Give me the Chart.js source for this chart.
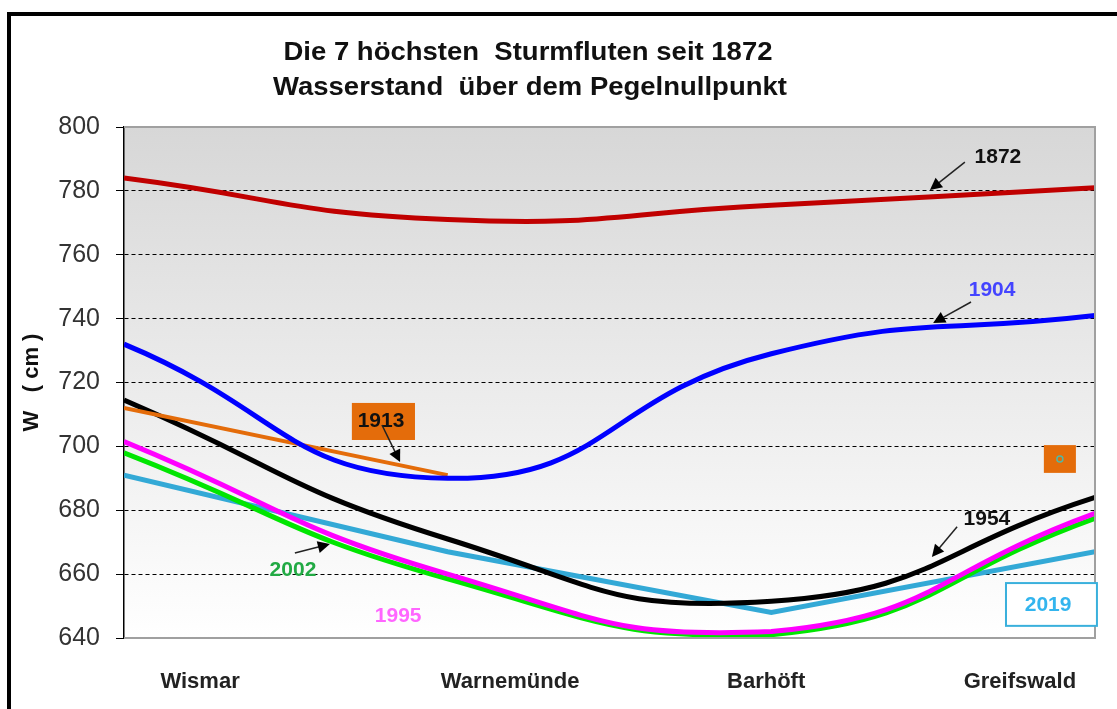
<!DOCTYPE html>
<html>
<head>
<meta charset="utf-8">
<script src="https://cdn.jsdelivr.net/npm/chart.js@4.4.0/dist/chart.umd.min.js"></script>
<style>
body { margin: 0; background: #fff; overflow: hidden; }
#wrap { position: relative; width: 1117px; height: 709px; }
#frame { position: absolute; left: 7px; top: 12px; width: 1200px; height: 800px; border-left: 4px solid #000; border-top: 4px solid #000; }
canvas { position: absolute; left: 0; top: 0; }
</style>
</head>
<body>
<div id="wrap">
  <div id="frame"></div>
  <canvas id="myChart" width="1117" height="709"></canvas>
</div>
<script>
// stations along the coast, x = 0..3
var stations = ["Wismar", "Warnemünde", "Barhöft", "Greifswald"];
var stationX = [0, 1, 2, 3];
var labelX = [0.235, 1.193, 1.984, 2.768];

// water level (cm) per storm flood
var w1872 = [784, 771, 775.5, 781];
var w1904 = [732, 690, 729, 741];
var w1913 = [712, 691];
var w1954 = [714.5, 671, 651.5, 684];
var w1995 = [701.5, 660, 642, 679];
var w2002 = [698, 658.5, 641, 677.5];
var w2019 = [691, 667, 648, 667];

var yMin = 640, yMax = 800, yStep = 20;

var titleLines = ["Die 7 höchsten  Sturmfluten seit 1872", "Wasserstand  über dem Pegelnullpunkt"];

const toPoints = (vals) => vals.map((v, i) => ({ x: stationX[i], y: v }));

const line = (label, vals, color, width, tension) => ({
    label: label,
    data: toPoints(vals),
    borderColor: color,
    borderWidth: width,
    pointRadius: 0,
    tension: tension,
    fill: false
});

// callouts, positions in data units
var notes = [
    { text: "1872", x: 2.70, y: 790.6, color: "#111", tail: [2.598, 789.0], head: [2.49, 780.3] },
    { text: "1904", x: 2.682, y: 749.0, color: "#4444ff", tail: [2.617, 745.2], head: [2.50, 738.6] },
    { text: "1913", x: 0.794, y: 707.9, color: "#111", box: [0.704, 713.6, 0.899, 702.0], boxFill: "#e46c0a", tail: [0.797, 706.7], head: [0.853, 695.1] },
    { text: "1954", x: 2.666, y: 677.3, color: "#111", tail: [2.574, 674.8], head: [2.496, 665.4] },
    { text: "2002", x: 0.522, y: 661.3, color: "#22aa44", tail: [0.528, 666.6], head: [0.636, 669.4] },
    { text: "1995", x: 0.847, y: 646.9, color: "#ff66ff" },
    { text: "2019", x: 2.855, y: 650.3, color: "#33b5ee", box: [2.725, 657.2, 3.006, 643.8], boxFill: "#fff", boxLine: "#3ab0dc" }
];

const drawArrow = (ctx, x1, y1, x2, y2) => {
    let a = Math.atan2(y2 - y1, x2 - x1)
    ctx.strokeStyle = "#222"
    ctx.fillStyle = "#000"
    ctx.lineWidth = 1.5
    ctx.beginPath()
    ctx.moveTo(x1, y1)
    ctx.lineTo(x2 - 8 * Math.cos(a), y2 - 8 * Math.sin(a))
    ctx.stroke()
    ctx.beginPath()
    ctx.moveTo(x2, y2)
    ctx.lineTo(x2 - 12 * Math.cos(a) + 6 * Math.sin(a), y2 - 12 * Math.sin(a) - 6 * Math.cos(a))
    ctx.lineTo(x2 - 12 * Math.cos(a) - 6 * Math.sin(a), y2 - 12 * Math.sin(a) + 6 * Math.cos(a))
    ctx.closePath()
    ctx.fill()
}

const backdrop = {
    id: "backdrop",
    beforeDraw(chart) {
        let ctx = chart.ctx, a = chart.chartArea
        let g = ctx.createLinearGradient(0, a.top, 0, a.bottom)
        g.addColorStop(0, "#d7d7d7")
        g.addColorStop(1, "#ffffff")
        ctx.save()
        ctx.fillStyle = g
        ctx.fillRect(a.left, a.top, a.right - a.left, a.bottom - a.top)
        ctx.restore()
    }
};

const extras = {
    id: "extras",
    afterDatasetsDraw(chart) {
        let ctx = chart.ctx, a = chart.chartArea
        let sx = chart.scales.x, sy = chart.scales.y
        ctx.save()
        // plot frame
        ctx.strokeStyle = "#a0a0a0"
        ctx.lineWidth = 2
        ctx.beginPath()
        ctx.moveTo(a.left, a.top)
        ctx.lineTo(a.right, a.top)
        ctx.lineTo(a.right, a.bottom)
        ctx.lineTo(a.left, a.bottom)
        ctx.stroke()

        // title
        ctx.fillStyle = "#111"
        ctx.font = "bold 26px 'Liberation Sans', Arial"
        ctx.textAlign = "center"
        ctx.textBaseline = "middle"
        let tw = ctx.measureText(titleLines[0]).width
        let k = Math.min(489 / tw, 1.08)
        ctx.save()
        ctx.translate(528, 0)
        ctx.scale(k, 1)
        ctx.fillText(titleLines[0], 0, 53)
        ctx.fillText(titleLines[1], 2 / k, 88)
        ctx.restore()

        // small orange marker box
        let bx1 = sx.getPixelForValue(2.842), by1 = sy.getPixelForValue(700.4)
        let bx2 = sx.getPixelForValue(2.941), by2 = sy.getPixelForValue(691.7)
        ctx.fillStyle = "#e46c0a"
        ctx.fillRect(bx1, by1, bx2 - bx1, by2 - by1)
        ctx.strokeStyle = "#4fb8a8"
        ctx.lineWidth = 1.5
        ctx.beginPath()
        ctx.arc((bx1 + bx2) / 2, (by1 + by2) / 2, 3, 0, Math.PI * 2)
        ctx.stroke()

        ctx.font = "bold 21px 'Liberation Sans', Arial"
        notes.forEach(n => {
            if (n.box) {
                let x1 = sx.getPixelForValue(n.box[0]), y1 = sy.getPixelForValue(n.box[1])
                let x2 = sx.getPixelForValue(n.box[2]), y2 = sy.getPixelForValue(n.box[3])
                ctx.fillStyle = n.boxFill
                ctx.fillRect(x1, y1, x2 - x1, y2 - y1)
                if (n.boxLine) {
                    ctx.strokeStyle = n.boxLine
                    ctx.lineWidth = 2
                    ctx.strokeRect(x1, y1, x2 - x1, y2 - y1)
                }
            }
            ctx.fillStyle = n.color
            ctx.fillText(n.text, sx.getPixelForValue(n.x), sy.getPixelForValue(n.y))
            if (n.tail) {
                drawArrow(ctx, sx.getPixelForValue(n.tail[0]), sy.getPixelForValue(n.tail[1]),
                    sx.getPixelForValue(n.head[0]), sy.getPixelForValue(n.head[1]))
            }
        })
        ctx.restore()
    }
};

new Chart("myChart", {
    type: "line",
    data: {
        datasets: [
            line("1872", w1872, "#c00000", 5, 0.5),
            line("1904", w1904, "#0000ff", 5, 0.5),
            line("1913", w1913, "#e46c0a", 4, 0),
            line("1954", w1954, "#000000", 5, 0.5),
            line("1995", w1995, "#ff00ff", 5, 0.5),
            line("2002", w2002, "#00e600", 5, 0.5),
            line("2019", w2019, "#33a9d6", 5, 0)
        ]
    },
    options: {
        responsive: false,
        animation: false,
        layout: { padding: { left: 0, top: 127, right: 22, bottom: 0 } },
        plugins: { legend: { display: false }, title: { display: false }, tooltip: { enabled: false } },
        scales: {
            x: {
                type: "linear",
                min: 0,
                max: 3,
                afterFit: (s) => { s.height = 71 },
                afterBuildTicks: (s) => { s.ticks = labelX.map(v => ({ value: v })) },
                grid: { display: false },
                border: { display: false },
                ticks: {
                    autoSkip: false,
                    maxRotation: 0,
                    padding: 23,
                    color: "#222",
                    font: { family: "'Liberation Sans', Arial", size: 22, weight: "bold" },
                    callback: (v, i) => stations[i]
                }
            },
            y: {
                min: yMin,
                max: yMax,
                afterFit: (s) => { s.width = 124 },
                grid: {
                    color: (c) => (c.tick && (c.tick.value === yMin || c.tick.value === yMax)) ? "rgba(0,0,0,0)" : "#000",
                    tickColor: "#000",
                    tickLength: 8,
                    lineWidth: 1
                },
                border: { display: true, color: "#000", width: 1.5, dash: [4, 3] },
                ticks: {
                    stepSize: yStep,
                    padding: 16,
                    color: "#333",
                    font: { family: "'Liberation Sans', Arial", size: 25 }
                },
                title: {
                    display: true,
                    text: "W   ( cm )",
                    color: "#111",
                    padding: { top: 19, bottom: 0 },
                    font: { family: "'Liberation Sans', Arial", size: 22, weight: "bold" }
                }
            }
        }
    },
    plugins: [backdrop, extras]
});
</script>
</body>
</html>
